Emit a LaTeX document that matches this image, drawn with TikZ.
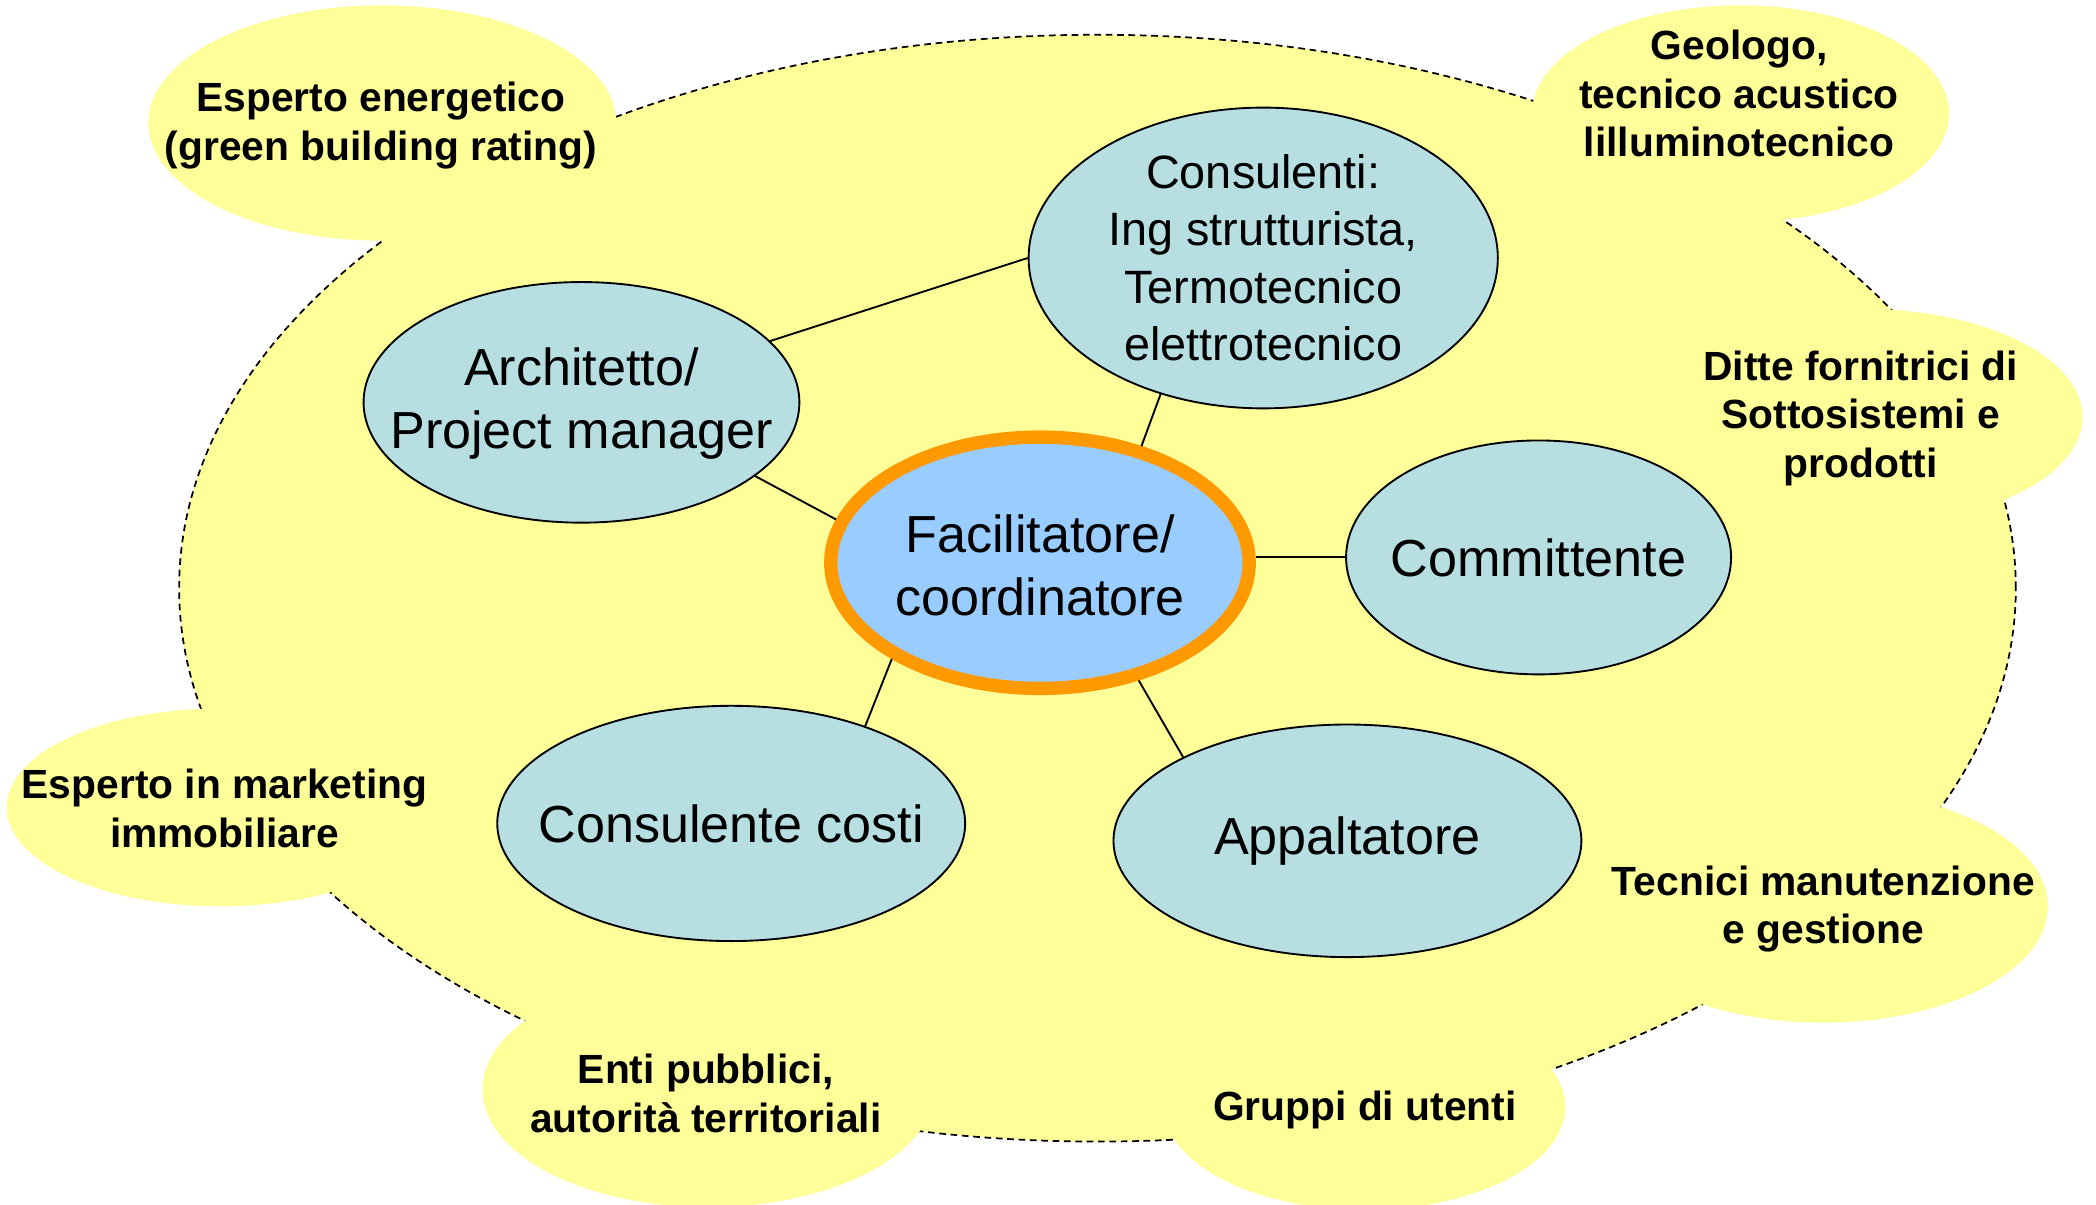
\documentclass[tikz,border=0pt]{standalone}
\usepackage{fontspec}
\setmainfont{Liberation Sans}
\usetikzlibrary{shapes.geometric}
\definecolor{yel}{HTML}{FFFF99}
\definecolor{tealfill}{HTML}{B7DFE2}
\definecolor{facblue}{HTML}{99CCFF}
\definecolor{facorange}{HTML}{FF9900}
\begin{document}
\begin{tikzpicture}[x=1pt,y=-1pt,
  blob/.style={fill=yel},
  ylabel/.style={font=\fontsize{30.5}{36.5}\selectfont\bfseries, align=center, inner sep=0pt},
  role/.style={ellipse, draw=black, line width=1.4pt, fill=tealfill, inner sep=0pt},
  roletext/.style={align=center, inner sep=0pt, font=\fontsize{39}{47}\selectfont},
  link/.style={line width=1.4pt}]
\useasboundingbox (0,0) rectangle (1568,901);
% big dashed cloud
\draw[fill=yel, line width=1.3pt, dash pattern=on 5pt off 3.5pt] (821,440) ellipse [x radius=687pt, y radius=414pt];
% outer blobs
\fill[blob] (286,92) ellipse [x radius=175pt, y radius=88pt];
\fill[blob] (1302,85) ellipse [x radius=156pt, y radius=81pt];
\fill[blob] (1393,312) ellipse [x radius=165pt, y radius=81pt];
\fill[blob] (1364,678) ellipse [x radius=168pt, y radius=87pt];
\fill[blob] (1021,828) ellipse [x radius=150pt, y radius=77pt];
\fill[blob] (530,815) ellipse [x radius=169pt, y radius=88pt];
\fill[blob] (165,604) ellipse [x radius=160pt, y radius=74pt];
% outer labels
\node[ylabel] (energ) at (285,94) {Esperto energetico\\(green building rating)};
\node[ylabel] (geo) at (1301,70) {Geologo,\\tecnico acustico\\lilluminotecnico};
\node[ylabel] (ditte) at (1392,313) {Ditte fornitrici di\\Sottosistemi e\\prodotti};
\node[ylabel] (tecn) at (1364,680) {Tecnici manutenzione\\e gestione};
\node[ylabel] (grup) at (1021,830) {Gruppi di utenti};
\node[ylabel] (enti) at (528,818) {Enti pubblici,\\autorità territoriali};
\node[ylabel] (mark) at (168,605) {Esperto in marketing\\immobiliare};
% roles
\node[role, minimum width=351pt, minimum height=225pt] (cons) at (945,193) {};
\node[roletext, font=\fontsize{35}{43}\selectfont] (const) at (cons.center) {Consulenti:\\Ing strutturista,\\Termotecnico\\elettrotecnico};
\node[role, minimum width=326pt, minimum height=180pt] (arch) at (435,301) {};
\node[roletext] (archt) at ([yshift=-1pt]arch.center) {Architetto/\\Project manager};
\node[role, minimum width=288pt, minimum height=175pt] (comm) at (1151,417) {};
\node[roletext] (commt) at (comm.center) {Committente};
\node[role, minimum width=350pt, minimum height=176pt] (costi) at (547,616) {};
\node[roletext] (costit) at (costi.center) {Consulente costi};
\node[role, minimum width=350pt, minimum height=174pt] (appa) at (1008,629) {};
\node[roletext] (appat) at (appa.center) {Appaltatore};
\node[ellipse, draw=facorange, line width=10pt, fill=facblue, inner sep=0pt,
  minimum width=313pt, minimum height=188pt] (fac) at (778,421) {};
\node[roletext] (fact) at ([yshift=-2pt]fac.center) {Facilitatore/\\coordinatore};
% connectors
\draw[link] (arch.18) -- (cons.180);
\draw[link] (arch.-23) -- (fac.168.6);
\draw[link] (fac.49) -- (cons.233.5);
\draw[link] (comm.west -| fac.east) -- (comm.west);
\draw[link] (fac.213.8) -- (costi.36.5);
\draw[link] (fac.-50.7) -- (appa.153.2);
\end{tikzpicture}
\end{document}
